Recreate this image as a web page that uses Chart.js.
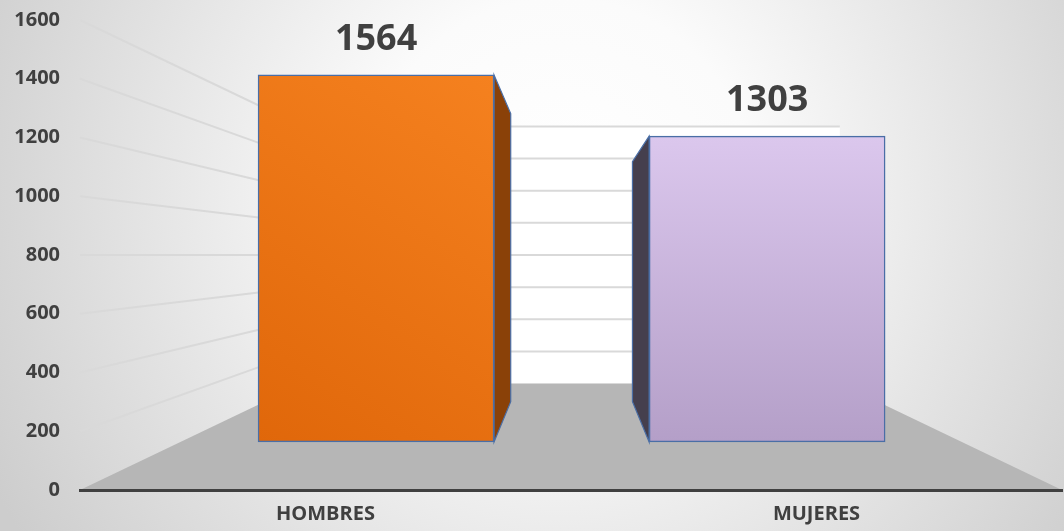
<!DOCTYPE html>
<html>
<head>
<meta charset="utf-8">
<script src="https://cdn.jsdelivr.net/npm/chart.js@4.4.1/dist/chart.umd.min.js"></script>
<style>
  html, body { margin: 0; padding: 0; background: #ffffff; }
  #wrap { width: 1064px; height: 531px; position: relative; }
</style>
</head>
<body>
<div id="wrap"><canvas id="chart_sexoTotales"></canvas></div>
<script>
// data
var categories = ['HOMBRES', 'MUJERES'];
var totals = [1564, 1303];
var gridValues = [200, 400, 600, 800, 1000, 1200, 1400, 1600];

var frontColors = [['#e0670a', '#f5811f'], ['#b49fc8', '#dbc7ed']];
var sideColors = ['#8a4108', '#453f4e'];
var textColor = '#404040';
var wallDepth = 0.453;
var barDepth = 0.215;

function vanish(chart) {
    return [chart.scales.xb.getPixelForValue(0.5), chart.scales.y.getPixelForValue(800)];
}
function proj(x, y, f, vp) {
    return [x + (vp[0] - x) * f, y + (vp[1] - y) * f];
}

var chart_sexoTotales = new Chart(document.getElementById('chart_sexoTotales'), {
    type: 'bar',
    data: {
        labels: categories,
        datasets: [
            {
                label: 'Total',
                data: totals.map(function (v, i) { return {x: i, y: v}; }),
                xAxisID: 'xb',
                yAxisID: 'yb',
                barThickness: 236,
                borderColor: '#4a6ea6',
                borderWidth: 1.5,
                borderSkipped: false,
                backgroundColor: function (context) {
                    var chart = context.chart;
                    var i = context.dataIndex;
                    if (!chart.chartArea) return frontColors[i][0];
                    var ctx = chart.ctx;
                    var g;
                    if (i === 0) {
                        g = ctx.createLinearGradient(258, 442, 494, 75);
                    } else {
                        g = ctx.createLinearGradient(0, 442, 0, 137);
                    }
                    g.addColorStop(0, frontColors[i][0]);
                    g.addColorStop(1, frontColors[i][1]);
                    return g;
                }
            }
        ]
    },
    options: {
        animation: false,
        responsive: true,
        maintainAspectRatio: false,
        layout: {
            padding: {top: 20, right: 2, bottom: 0, left: 0}
        },
        plugins: {
            legend: {display: false},
            tooltip: {enabled: false}
        },
        scales: {
            x: {
                type: 'category',
                grid: {display: false, drawTicks: false},
                border: {display: true, color: '#404040', width: 3},
                ticks: {
                    padding: 12,
                    color: textColor,
                    font: {family: 'Open Sans', weight: 'bold', size: 20}
                },
                afterFit: function (scale) {
                    scale.height = 41;
                    scale.paddingLeft = 0;
                    scale.paddingRight = 0;
                }
            },
            y: {
                type: 'linear',
                min: 0,
                max: 1600,
                grid: {display: false, drawTicks: false},
                border: {display: false},
                ticks: {
                    stepSize: 200,
                    padding: 20,
                    color: textColor,
                    font: {family: 'Open Sans', weight: 'bold', size: 20},
                    callback: function (value) { return String(value); }
                },
                afterFit: function (scale) {
                    scale.width = 80;
                    scale.paddingTop = 0;
                    scale.paddingBottom = 0;
                }
            },
            xb: {
                type: 'linear',
                display: false,
                offset: false,
                min: -0.757,
                max: 1.754
            },
            yb: {
                type: 'linear',
                display: false,
                min: -205,
                max: 1798
            }
        }
    },
    plugins: [{
        id: 'fakeDepth',
        beforeDraw: function (chart) {
            var ctx = chart.ctx;
            var a = chart.chartArea;
            var ys = chart.scales.y;
            var vp = vanish(chart);
            ctx.save();
            var bg = ctx.createRadialGradient(560, 190, 0, 560, 190, 640);
            bg.addColorStop(0, '#ffffff');
            bg.addColorStop(0.3, '#fbfbfb');
            bg.addColorStop(1, '#cdcdcd');
            ctx.fillStyle = bg;
            ctx.fillRect(0, 0, chart.width, chart.height);

            var b0 = ys.getPixelForValue(0);
            var t0 = ys.getPixelForValue(1600);
            var bl = proj(a.left, b0, wallDepth, vp);
            var br = proj(a.right, b0, wallDepth, vp);
            var tl = proj(a.left, t0, wallDepth, vp);

            // back wall
            ctx.fillStyle = '#ffffff';
            ctx.fillRect(tl[0], tl[1], br[0] - tl[0], br[1] - tl[1]);

            // floor
            ctx.fillStyle = '#b6b6b6';
            ctx.beginPath();
            ctx.moveTo(a.left, b0);
            ctx.lineTo(bl[0], bl[1]);
            ctx.lineTo(br[0], br[1]);
            ctx.lineTo(a.right, b0);
            ctx.closePath();
            ctx.fill();

            // grid lines, side wall and back wall
            ctx.strokeStyle = '#d9d9d9';
            ctx.lineWidth = 2;
            gridValues.forEach(function (v) {
                var fy = ys.getPixelForValue(v);
                var p = proj(a.left, fy, wallDepth, vp);
                var q = proj(a.right, fy, wallDepth, vp);
                ctx.beginPath();
                ctx.moveTo(a.left, fy);
                ctx.lineTo(p[0], p[1]);
                ctx.lineTo(q[0], q[1]);
                ctx.stroke();
            });
            ctx.restore();
        },
        beforeDatasetsDraw: function (chart) {
            var ctx = chart.ctx;
            var vp = vanish(chart);
            var meta = chart.getDatasetMeta(0);
            ctx.save();
            meta.data.forEach(function (bar, i) {
                var edge = bar.x < vp[0] ? bar.x + bar.width / 2 : bar.x - bar.width / 2;
                var pt = proj(edge, bar.y, barDepth, vp);
                var pb = proj(edge, bar.base, barDepth, vp);
                ctx.beginPath();
                ctx.moveTo(edge, bar.y);
                ctx.lineTo(pt[0], pt[1]);
                ctx.lineTo(pb[0], pb[1]);
                ctx.lineTo(edge, bar.base);
                ctx.closePath();
                ctx.fillStyle = sideColors[i];
                ctx.fill();
                ctx.strokeStyle = '#4a6ea6';
                ctx.lineWidth = 1.2;
                ctx.stroke();
            });
            ctx.restore();
        },
        afterDatasetsDraw: function (chart) {
            var ctx = chart.ctx;
            var meta = chart.getDatasetMeta(0);
            ctx.save();
            ctx.fillStyle = textColor;
            ctx.font = 'bold 36px "Open Sans"';
            ctx.textAlign = 'center';
            ctx.textBaseline = 'middle';
            meta.data.forEach(function (bar, i) {
                ctx.fillText(String(totals[i]), bar.x, bar.y - 35);
            });
            ctx.restore();
        }
    }]
});
</script>
</body>
</html>
